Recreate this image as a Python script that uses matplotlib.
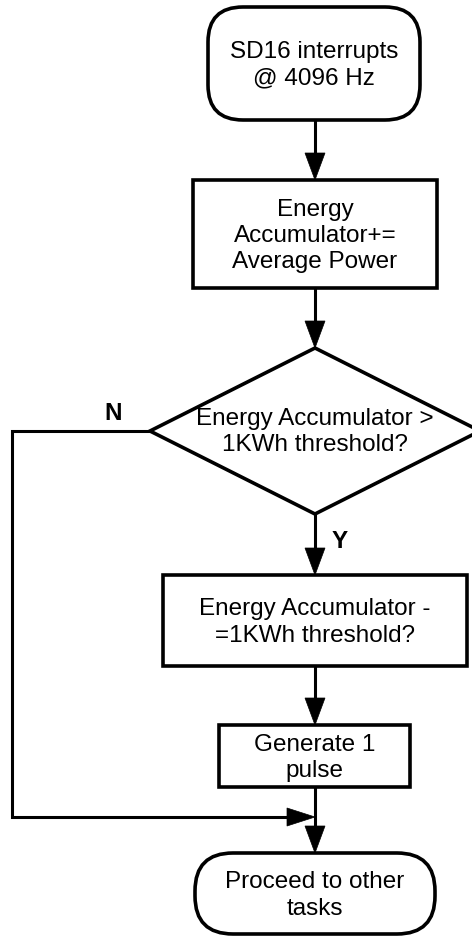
import matplotlib.pyplot as plt
from matplotlib.patches import Rectangle, Polygon, FancyBboxPatch

# node texts, top to bottom
start_text = "SD16 interrupts\n@ 4096 Hz"
accum_text = "Energy\nAccumulator+=\nAverage Power"
decision_text = "Energy Accumulator >\n1KWh threshold?"
subtract_text = "Energy Accumulator -\n=1KWh threshold?"
pulse_text = "Generate 1\npulse"
end_text = "Proceed to other\ntasks"
branch_labels = ["N", "Y"]

W, H = 472, 936
LW_BOX = 2.6
LW_LINE = 2.2
FS = 17.5

plt.rcParams['font.family'] = ['Liberation Sans', 'DejaVu Sans']

fig = plt.figure(figsize=(W / 100, H / 100), dpi=100)
ax = fig.add_axes([0, 0, 1, 1])
ax.set_xlim(0, W)
ax.set_ylim(H, 0)
ax.axis('off')


def label(x, y, s, **kw):
    ax.text(x, y + 2, s, ha='center', va='center', fontsize=FS,
            linespacing=1.26, **kw)


def rounded(x0, y0, x1, y1, r, s):
    ax.add_patch(FancyBboxPatch((x0, y0), x1 - x0, y1 - y0,
                                boxstyle=f"round,pad=0,rounding_size={r}",
                                fc='white', ec='black', lw=LW_BOX))
    label((x0 + x1) / 2, (y0 + y1) / 2, s)


def box(x0, y0, x1, y1, s):
    ax.add_patch(Rectangle((x0, y0), x1 - x0, y1 - y0,
                           fc='white', ec='black', lw=LW_BOX))
    label((x0 + x1) / 2, (y0 + y1) / 2, s)


def head(tip, direction, length=27, half=10):
    x, y = tip
    if direction == 'down':
        pts = [(x, y), (x - half, y - length), (x + half, y - length)]
    else:  # right
        pts = [(x, y), (x - length, y - half), (x - length, y + half)]
    ax.add_patch(Polygon(pts, closed=True, fc='black', ec='black', lw=0.5))


def down_arrow(x, y0, y1):
    ax.plot([x, x], [y0, y1 - 20], color='black', lw=LW_LINE,
            solid_capstyle='butt')
    head((x, y1), 'down')


cx = 315

rounded(208, 7, 420, 120, 35, start_text)
down_arrow(cx, 120, 180)

box(193, 180, 437, 288, accum_text)
down_arrow(cx, 288, 348)

# decision diamond (right corner runs past the edge)
dy, hw, hh = 431, 165, 83
ax.add_patch(Polygon([(cx, dy - hh), (cx + hw, dy), (cx, dy + hh), (cx - hw, dy)],
                     closed=True, fc='white', ec='black', lw=LW_BOX,
                     clip_on=True))
label(cx, dy - 1, decision_text)

down_arrow(cx, dy + hh, 575)
ax.text(340, 541, branch_labels[1], ha='center', va='center',
        fontsize=FS, fontweight='bold')

box(163, 575, 467, 666, subtract_text)
down_arrow(cx, 666, 725)

box(219, 725, 410, 787, pulse_text)
down_arrow(cx, 787, 853)

# "No" path around the left side
ax.plot([cx - hw, 12, 12, cx - 20], [dy, dy, 817, 817], color='black',
        lw=LW_LINE, solid_joinstyle='miter')
head((cx, 817), 'right', length=28, half=9)
ax.text(113, 413, branch_labels[0], ha='center', va='center',
        fontsize=FS, fontweight='bold')

rounded(195, 853, 435, 934, 38, end_text)

fig.savefig('out.png', dpi=100)
